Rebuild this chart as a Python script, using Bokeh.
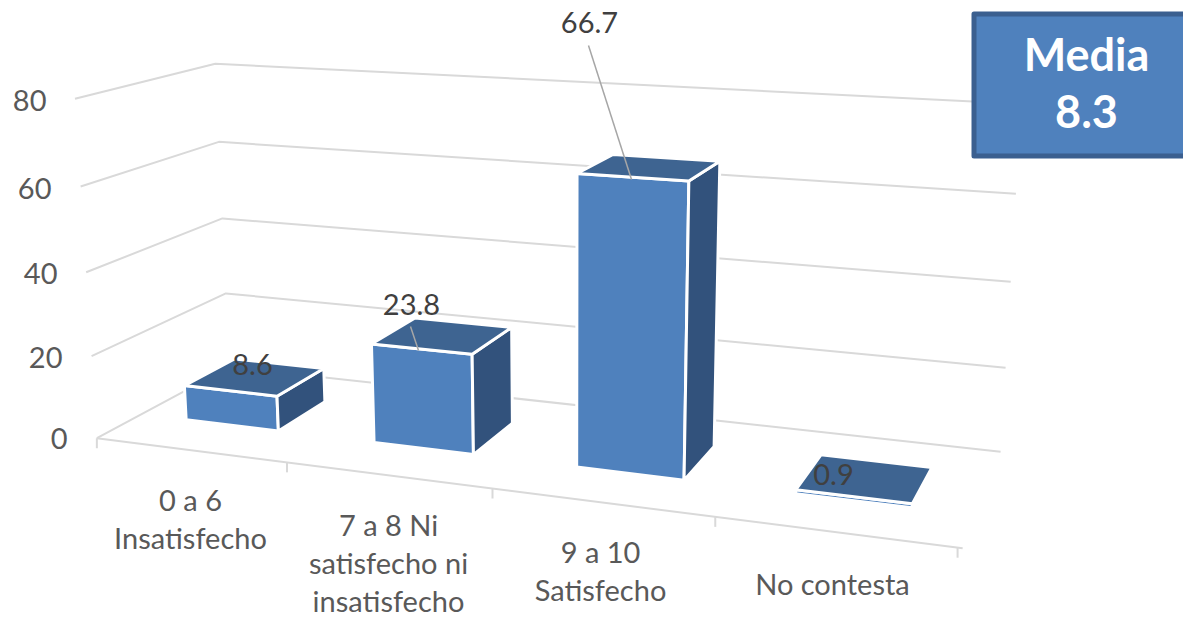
import numpy as np
from bokeh.plotting import figure
from bokeh.core.properties import value
from bokeh.embed import file_html
from bokeh.resources import INLINE

categories = ["0 a 6\nInsatisfecho", "7 a 8 Ni\nsatisfecho ni\ninsatisfecho", "9 a 10\nSatisfecho", "No contesta"]
values = [8.6, 23.8, 66.7, 0.9]
value_ticks = [0, 20, 40, 60, 80]
media_label = ["Media", "8.3"]

W, H = 1183, 618
FONT = value("Lato")

# Perspective camera of the 3D chart: (category, depth, value) -> page pixel
CALIB = [
    ((0, 0, 0), (97, 437)), ((1, 0, 0), (288, 462)), ((2, 0, 0), (492, 488)),
    ((3, 0, 0), (714, 517)), ((4, 0, 0), (957, 548)), ((0, 1, 0), (229, 368)),
    ((4, 1, 0), (1000, 452)), ((0, 0, 80), (75, 98)), ((0, 1, 80), (215, 64)),
    ((0, 0, 40), (85, 272)), ((0, 1, 40), (222, 218)), ((4, 1, 40), (1010, 280)),
    ((4, 1, 60), (1016, 195)), ((4, 1, 20), (1005, 365)), ((0, 0, 60), (80, 186)),
    ((0, 1, 60), (218, 141)), ((0, 0, 20), (90, 355)), ((0, 1, 20), (225, 292)),
]
rows, rhs = [], []
for (u, d, v), (x, y) in CALIB:
    rows.append([u, d, v, 1, 0, 0, 0, 0, -x * u, -x * d, -x * v])
    rhs.append(x)
    rows.append([0, 0, 0, 0, u, d, v, 1, -y * u, -y * d, -y * v])
    rhs.append(y)
m = np.linalg.lstsq(np.array(rows, float), np.array(rhs, float), rcond=None)[0]
P = np.append(m, 1.0).reshape(3, 4)


def proj(u, d, v):
    r = P @ np.array([u, d, v, 1.0])
    return float(r[0] / r[2]), float(r[1] / r[2])


def poly(*pts):
    xy = [proj(*q) for q in pts]
    return [a for a, _ in xy], [b for _, b in xy]


p = figure(width=W, height=H, x_range=(0, W), y_range=(H, 0), output_backend="svg",
           toolbar_location=None, min_border=0, outline_line_color=None,
           background_fill_color="white")
p.xaxis.visible = False
p.yaxis.visible = False
p.grid.visible = False

GRID = "#d9d9d9"
for t in value_ticks:
    xs, ys = poly((0, 0, t), (0, 1, t), (4, 1, t))
    p.line(xs, ys, line_color=GRID, line_width=2)
xs, ys = poly((0, 0, 0), (4.02, 0, 0))
p.line(xs, ys, line_color=GRID, line_width=2)
for i in range(5):
    xs, ys = poly((i, 0, 0), (i, 0, 0))
    p.line([xs[0], xs[0]], [ys[0], ys[0] + 10], line_color=GRID, line_width=2)

U0, U1, D0, D1 = 0.25, 0.75, 0.31, 0.70
FRONT, TOP, SIDE = "#4f81bd", "#3e6491", "#32527c"
for i, val in enumerate(values):
    a, b = i + U0, i + U1
    xs, ys = poly((a, D0, 0), (b, D0, 0), (b, D0, val), (a, D0, val))
    p.patch(xs, ys, fill_color=FRONT, line_color="white", line_width=3)
    xs, ys = poly((b, D0, 0), (b, D1, 0), (b, D1, val), (b, D0, val))
    p.patch(xs, ys, fill_color=SIDE, line_color="white", line_width=3)
    xs, ys = poly((a, D0, val), (b, D0, val), (b, D1, val), (a, D1, val))
    p.patch(xs, ys, fill_color=TOP, line_color="white", line_width=3)

# Leader lines of the data labels
LEADER = "#a6a6a6"
p.line([588, 631], [45, 179], line_color=LEADER, line_width=1.5)
p.line([410, 418], [326, 350], line_color=LEADER, line_width=1.5)

# Value axis labels
TICK_POS = [(67, 438), (62, 357), (57, 273), (51, 188), (46, 100)]
for t, (x, y) in zip(value_ticks, TICK_POS):
    p.text([x], [y], text=[str(t)], text_font=FONT, text_font_size="29px", text_color="#595959",
           text_align="right", text_baseline="middle")

# Category labels
CAT_POS = [(190, 499), (388, 524), (600, 551), (832, 583)]
for cat, (x, y) in zip(categories, CAT_POS):
    for k, line in enumerate(cat.split("\n")):
        p.text([x], [y + 38 * k], text=[line], text_font=FONT, text_font_size="29px",
               text_line_height=1.0, text_color="#595959", text_align="center", text_baseline="middle")

# Data labels
LABEL_POS = [(252, 364), (411, 304), (589, 22), (833, 474)]
for val, (x, y) in zip(values, LABEL_POS):
    p.text([x], [y], text=[str(val)], text_font=FONT, text_font_size="29px", text_color="#404040",
           text_align="center", text_baseline="middle")

# Media box
p.quad(left=[973.5], right=[1195], top=[13.5], bottom=[155.5], fill_color="#4f81bd",
       line_color="#3b5f8f", line_width=5, line_join="round")
for s, y in zip(media_label, (53, 111)):
    p.text([1086], [y], text=[s], text_font=FONT, text_font_style="bold", text_font_size="45px",
           text_color="white", text_align="center", text_baseline="middle")

open("out.html", "w").write(file_html(p, INLINE))
